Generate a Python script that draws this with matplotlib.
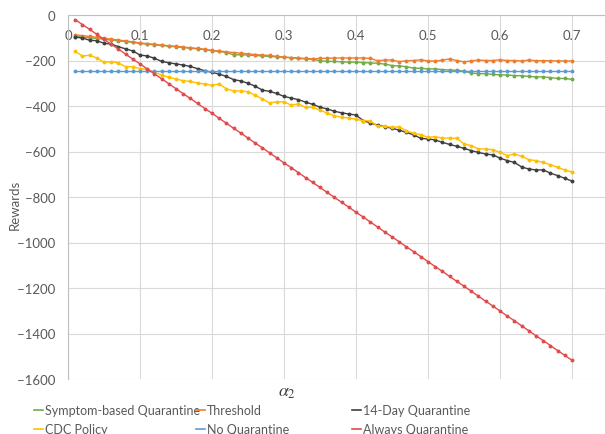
import matplotlib
matplotlib.use("Agg")
import matplotlib.pyplot as plt
import numpy as np
from matplotlib.lines import Line2D

plt.rcParams['font.family'] = ['Lato', 'DejaVu Sans']
plt.rcParams['mathtext.fontset'] = 'stix'

# alpha_2 values (0.01 .. 0.70)
alpha2 = np.linspace(0.01, 0.70, 70)

symptom = [-95, -97, -100, -103, -107, -110, -113, -117, -120, -125,
           -128, -131, -134, -137, -140, -143, -146, -149, -152, -157,
           -160, -165, -175, -175, -176, -178, -180, -182, -184, -186,
           -188, -191, -193, -195, -201, -204, -204, -206, -207, -208,
           -209, -211, -212, -216, -222, -224, -227, -234, -234, -237,
           -237, -240, -242, -243, -247, -255, -258, -258, -261, -263,
           -264, -266, -267, -270, -272, -272, -275, -279, -279, -283]

threshold = [-87, -91, -94, -98, -102, -106, -110, -114, -118, -123,
             -126, -129, -132, -135, -138, -141, -144, -147, -151, -156,
             -158, -162, -165, -168, -171, -174, -176, -178, -182, -185,
             -187, -189, -191, -193, -191, -190, -189, -189, -189, -189,
             -189, -191, -201, -198, -198, -205, -201, -200, -197, -202,
             -203, -198, -193, -200, -206, -202, -198, -200, -200, -197,
             -200, -200, -202, -198, -201, -201, -201, -202, -202, -202]

day14 = [-97, -101, -111, -113, -124, -128, -139, -149, -158, -176,
         -180, -190, -204, -210, -215, -220, -226, -236, -245, -252,
         -260, -270, -284, -290, -300, -313, -330, -336, -345, -358,
         -365, -372, -383, -393, -405, -413, -423, -430, -435, -440,
         -464, -475, -484, -491, -498, -506, -516, -527, -542, -545,
         -549, -560, -569, -577, -586, -596, -604, -611, -615, -629,
         -640, -648, -668, -677, -681, -681, -695, -706, -718, -730]

cdc = [-160, -180, -177, -189, -208, -205, -211, -227, -227, -236,
       -239, -252, -264, -274, -281, -289, -292, -299, -303, -309,
       -303, -325, -334, -334, -337, -353, -369, -387, -381, -382,
       -396, -391, -406, -406, -418, -431, -443, -450, -452, -459,
       -464, -466, -489, -489, -494, -491, -509, -520, -526, -538,
       -535, -541, -541, -542, -567, -574, -589, -589, -592, -604,
       -618, -611, -621, -636, -640, -648, -658, -670, -681, -690]

no_quar = [-248] * 70

always = [-20, -42, -63, -85, -107, -128, -150, -172, -194, -215,
          -237, -259, -280, -302, -324, -346, -367, -389, -411, -432,
          -454, -476, -498, -519, -541, -563, -584, -606, -628, -650,
          -671, -693, -715, -736, -758, -780, -802, -823, -845, -867,
          -888, -910, -932, -954, -975, -997, -1019, -1040, -1062, -1084,
          -1106, -1127, -1149, -1171, -1192, -1214, -1236, -1258, -1279, -1301,
          -1323, -1344, -1366, -1388, -1410, -1431, -1453, -1475, -1496, -1518]

series = [
    ("Symptom-based Quarantine", symptom, "#70AD47"),
    ("Threshold", threshold, "#ED7D31"),
    ("14-Day Quarantine", day14, "#404040"),
    ("CDC Policy", cdc, "#FFC000"),
    ("No Quarantine", no_quar, "#5B9BD5"),
    ("Always Quarantine", always, "#E04B4B"),
]

W, H = 605, 435
fig = plt.figure(figsize=(W / 100, H / 100), dpi=100)
# plot area in pixels: x 68..605, y 16..380
ax = fig.add_axes([68 / W, 1 - 380 / H, (605 - 68) / W, (380 - 16) / H])

for name, vals, col in series:
    ax.plot(alpha2, vals, color=col, lw=1.0, marker='o', ms=1.8,
            mec=col, mfc=col, label=name)

ax.set_xlim(0, 0.7458)
ax.set_ylim(-1600, 0)
ax.set_xticks(np.arange(0, 0.75, 0.1))
ax.set_xticklabels(["0", "0.1", "0.2", "0.3", "0.4", "0.5", "0.6", "0.7"])
ax.set_yticks(np.arange(-1600, 1, 200))
ax.grid(True, color="#D9D9D9", lw=0.8)
ax.set_axisbelow(True)

for s in ["right", "bottom"]:
    ax.spines[s].set_visible(False)
for s in ["top", "left"]:
    ax.spines[s].set_color("#BFBFBF")
    ax.spines[s].set_linewidth(0.8)

ax.tick_params(axis='x', top=True, labeltop=True, bottom=False, labelbottom=False,
               length=0, pad=-19, labelsize=9.5, labelcolor="#595959")
ax.tick_params(axis='y', length=0, pad=9, labelsize=9.5, labelcolor="#595959")

fig.text(15 / W, 1 - 205 / H, "Rewards", rotation=90, ha='center', va='center',
         fontsize=9.5, color="#595959")
fig.text(287 / W, 1 - 393 / H, r"$\alpha_2$", ha='center', va='center',
         fontsize=13, color="#404040")

# legend: three columns, two rows
cols_x = [34, 196, 352]
for ci in range(3):
    handles = []
    for ri in range(2):
        name, vals, col = series[ri * 3 + ci]
        handles.append(Line2D([], [], color=col, lw=1.2, label=name))
    leg = fig.legend(handles=handles, loc='upper left',
                     bbox_to_anchor=(cols_x[ci] / W, 1 - 405 / H),
                     frameon=False, fontsize=9, handlelength=0.7,
                     handletextpad=0.15, borderpad=0, borderaxespad=0,
                     labelspacing=0.6)
    for t in leg.get_texts():
        t.set_color("#595959")

fig.savefig("out.png", dpi=100)
